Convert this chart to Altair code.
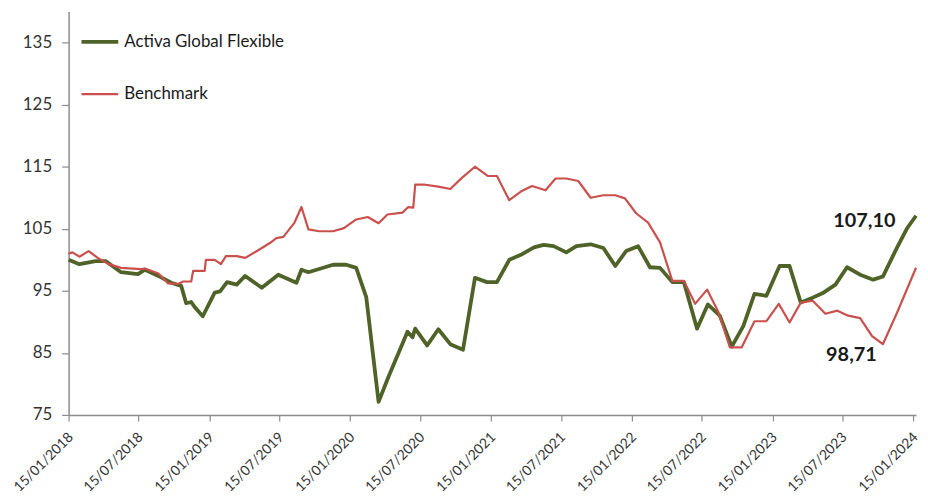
import altair as alt
import pandas as pd

fund_dates = ["2018-01-15","2018-02-12","2018-03-26","2018-04-21","2018-05-31","2018-07-14","2018-08-01",
    "2018-09-05","2018-10-08","2018-11-03","2018-11-16","2018-11-29","2018-12-09","2018-12-29","2019-01-29",
    "2019-02-12","2019-03-02","2019-03-27","2019-04-18","2019-05-31","2019-07-13","2019-08-29","2019-09-11",
    "2019-09-29","2019-12-02","2020-01-05","2020-01-31","2020-02-26","2020-03-29","2020-04-24","2020-06-12",
    "2020-06-25","2020-07-02","2020-08-02","2020-08-31","2020-10-01","2020-11-03","2020-12-04","2021-01-04",
    "2021-01-30","2021-03-03","2021-04-02","2021-05-06","2021-05-31","2021-06-26","2021-07-29","2021-08-24",
    "2021-09-30","2021-11-02","2021-12-03","2021-12-31","2022-01-31","2022-03-03","2022-03-29","2022-04-30",
    "2022-05-30","2022-07-03","2022-07-31","2022-08-31","2022-10-01","2022-10-31","2022-11-29","2022-12-30",
    "2023-02-02","2023-02-28","2023-03-29","2023-04-29","2023-05-27","2023-06-27","2023-07-27","2023-08-30",
    "2023-10-03","2023-10-28","2023-12-04","2023-12-29","2024-01-22"]
fund_values = [100.0,99.3,99.8,99.8,98.0,97.7,98.4,97.4,96.3,95.8,93.0,93.2,92.3,90.9,94.7,
    94.9,96.4,96.0,97.4,95.5,97.6,96.3,98.4,98.0,99.2,99.2,98.7,94.0,77.1,81.2,88.4,
    87.5,88.9,86.2,88.8,86.4,85.5,97.1,96.4,96.4,100.0,100.8,102.0,102.4,102.2,101.2,102.2,
    102.5,101.9,99.0,101.4,102.2,98.8,98.7,96.4,96.4,88.9,92.8,91.0,86.0,89.3,94.5,94.2,
    99.0,99.0,93.1,93.9,94.7,96.0,98.8,97.6,96.8,97.3,102.0,105.0,107.10]

bench_dates = ["2018-01-15","2018-01-25","2018-02-12","2018-03-08","2018-04-03","2018-04-29","2018-05-31",
    "2018-07-22","2018-08-01","2018-09-05","2018-09-30","2018-10-26","2018-11-08","2018-11-29","2018-12-04",
    "2019-01-03","2019-01-06","2019-01-29","2019-02-14","2019-02-27","2019-03-27","2019-04-18","2019-05-26",
    "2019-06-21","2019-07-08","2019-07-26","2019-08-24","2019-09-11","2019-09-29","2019-10-27","2019-12-02",
    "2019-12-30","2020-01-31","2020-03-01","2020-03-29","2020-04-21","2020-05-30","2020-06-14","2020-06-27",
    "2020-07-02","2020-07-28","2020-08-31","2020-10-01","2020-10-31","2020-12-04","2021-01-07","2021-01-30",
    "2021-03-03","2021-04-02","2021-05-01","2021-06-05","2021-07-01","2021-07-29","2021-08-29","2021-09-30",
    "2021-11-02","2021-12-03","2021-12-28","2022-01-26","2022-02-26","2022-03-29","2022-04-30","2022-05-30",
    "2022-06-28","2022-07-29","2022-08-28","2022-09-26","2022-10-27","2022-11-29","2022-12-30","2023-01-31",
    "2023-02-28","2023-03-29","2023-04-29","2023-06-01","2023-07-02","2023-07-30","2023-08-30","2023-09-30",
    "2023-10-28","2023-12-04","2024-01-22"]
bench_values = [101.0,101.2,100.5,101.4,100.2,99.3,98.7,98.5,98.6,97.8,96.2,96.1,96.5,96.5,98.2,
    98.2,100.0,100.0,99.3,100.6,100.6,100.3,101.7,102.7,103.5,103.7,106.0,108.5,104.9,104.6,104.6,
    105.1,106.5,106.9,105.9,107.3,107.6,108.5,108.4,112.1,112.1,111.8,111.4,113.2,115.0,113.5,113.5,
    109.6,111.0,111.9,111.2,113.1,113.1,112.7,110.0,110.4,110.4,109.9,107.5,106.0,102.8,96.6,96.6,
    92.9,95.2,91.5,85.9,85.9,90.1,90.1,92.9,89.9,93.1,93.4,91.3,91.8,91.0,90.6,87.7,
    86.4,91.5,98.71]

series_names = ["Activa Global Flexible", "Benchmark"]
series_colors = ["#4F6228", "#C9504D"]
end_labels = ["107,10", "98,71"]
tick_dates = [(y, m) for y in range(2018, 2025) for m in (1, 7) if not (y == 2024 and m == 7)]

df = pd.concat([
    pd.DataFrame({"date": fund_dates, "value": fund_values, "series": series_names[0]}),
    pd.DataFrame({"date": bench_dates, "value": bench_values, "series": series_names[1]}),
])

ends = pd.DataFrame({
    "date": [fund_dates[-1], bench_dates[-1]],
    "value": [fund_values[-1], bench_values[-1]],
    "label": end_labels,
})

FONT = "Lato"
xscale = alt.Scale(type="utc",
                   domain=[alt.DateTime(year=2018, month=1, date=15, utc=True),
                           alt.DateTime(year=2024, month=1, date=22, utc=True)])
yscale = alt.Scale(domain=[75, 140], nice=False, zero=False)

xaxis = alt.Axis(values=[alt.DateTime(year=y, month=m, date=15, utc=True) for y, m in tick_dates],
                 labelExpr="utcFormat(datum.value, '%d/%m/%Y')", labelAngle=315, labelAlign="right",
                 labelBaseline="middle", labelFontSize=14, labelFont=FONT, labelColor="#333333",
                 labelPadding=14, labelOffset=2, tickSize=6, tickColor="#8c8c8c",
                 domainColor="#8c8c8c", domainWidth=1.5, tickWidth=1.2, grid=False, title=None,
                 labelOverlap=False, labelFlush=False, labelBound=False)
yaxis = alt.Axis(values=[75, 85, 95, 105, 115, 125, 135], labelFontSize=17, labelFont=FONT,
                 labelColor="#333333", labelPadding=10, tickSize=7, tickColor="#8c8c8c",
                 domainColor="#8c8c8c", domainWidth=1.5, tickWidth=1.2, grid=False, title=None)

legend_spec = dict(title=None, orient="none", legendX=11, legendY=10, symbolType="stroke",
                   symbolSize=1369, labelFontSize=17, labelFont=FONT, labelColor="#1a1a1a",
                   rowPadding=24, labelOffset=4, padding=0, labelLimit=400)

lines = alt.Chart(df).mark_line(strokeJoin="round").encode(
    x=alt.X("date:T", scale=xscale, axis=xaxis),
    y=alt.Y("value:Q", scale=yscale, axis=yaxis),
    color=alt.Color("series:N", scale=alt.Scale(domain=series_names, range=series_colors),
                    legend=alt.Legend(**legend_spec)),
    strokeWidth=alt.StrokeWidth("series:N", scale=alt.Scale(domain=series_names, range=[3.8, 2.2]),
                                legend=alt.Legend(**legend_spec)),
    order="date:T",
)

lab1 = alt.Chart(ends.iloc[[0]]).mark_text(font=FONT, fontSize=20, fontWeight="bold",
                                            color="#1a1a1a", dx=-52, dy=5).encode(
    x=alt.X("date:T", scale=xscale, axis=xaxis), y=alt.Y("value:Q", scale=yscale, axis=yaxis),
    text="label:N")
lab2 = alt.Chart(ends.iloc[[1]]).mark_text(font=FONT, fontSize=20, fontWeight="bold",
                                            color="#1a1a1a", dx=-65, dy=88).encode(
    x=alt.X("date:T", scale=xscale, axis=xaxis), y=alt.Y("value:Q", scale=yscale, axis=yaxis),
    text="label:N")

chart = alt.layer(lines, lab1, lab2).properties(
    width=853, height=406,
    autosize=alt.AutoSizeParams(type="none"),
    padding={"left": 61, "top": 2, "right": 4, "bottom": 80},
    background="white",
).configure_view(stroke=None)

chart.save("out.html", embed_options={"renderer": "svg", "actions": False})
